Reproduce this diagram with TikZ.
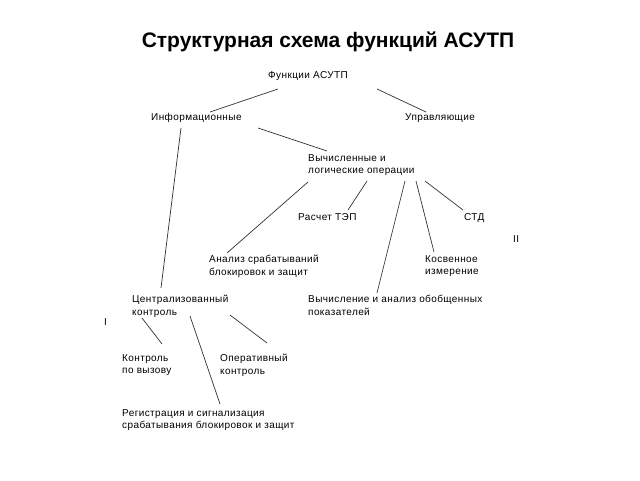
\documentclass[tikz,border=0pt]{standalone}
\usepackage{fontspec}
\setmainfont{Liberation Sans}
\newfontfamily\lblfont[LetterSpace=4]{Liberation Sans}
\begin{document}
\begin{tikzpicture}[x=1pt,y=-1pt,
  lbl/.style={anchor=north west,inner sep=0pt,align=left,font=\lblfont\fontsize{10}{12.8}\selectfont},
  conn/.style={draw=black!80,line width=0.7pt}]
\useasboundingbox (0,0) rectangle (640,480);
\node[anchor=base,inner sep=0pt,font=\fontsize{21}{24}\selectfont\bfseries] (title) at (328,47) {Структурная схема функций АСУТП};
\node[lbl] (f) at (268,71) {Функции АСУТП};
\node[lbl] (inf) at (151,113) {Информационные};
\node[lbl] (upr) at (405,113) {Управляющие};
\node[lbl] (vych) at (308,154) {Вычисленные и\\логические операции};
\node[lbl] (tep) at (298,213) {Расчет ТЭП};
\node[lbl] (std) at (464,213) {СТД};
\node[lbl] (ii) at (513,235) {II};
\node[lbl] (anal) at (209,255) {Анализ срабатываний\\блокировок и защит};
\node[lbl] (kosv) at (425,255) {Косвенное\\измерение};
\node[lbl] (centr) at (132,295) {Централизованный\\контроль};
\node[lbl] (obob) at (308,295) {Вычисление и анализ обобщенных\\показателей};
\node[lbl] (i) at (104,318) {I};
\node[lbl] (vyz) at (122,354) {Контроль\\по вызову};
\node[lbl] (oper) at (220,354) {Оперативный\\контроль};
\node[lbl] (reg) at (122,409) {Регистрация и сигнализация\\срабатывания блокировок и защит};
\coordinate (a1) at (278,89); \coordinate (a2) at (210,112);
\coordinate (b1) at (377,89); \coordinate (b2) at (426,112);
\coordinate (c1) at (258,128); \coordinate (c2) at (327,151);
\coordinate (d1) at (181,128); \coordinate (d2) at (161,288);
\coordinate (e1) at (308,182); \coordinate (e2) at (227,253);
\coordinate (g1) at (367,181); \coordinate (g2) at (348,210);
\coordinate (h1) at (405,181); \coordinate (h2) at (377,293);
\coordinate (k1) at (416,181); \coordinate (k2) at (434,252);
\coordinate (m1) at (425,181); \coordinate (m2) at (463,210);
\coordinate (n1) at (142,318); \coordinate (n2) at (162,344);
\coordinate (p1) at (190,316); \coordinate (p2) at (220,404);
\coordinate (q1) at (230,315); \coordinate (q2) at (267,343);
\draw[conn] (a1) -- (a2);
\draw[conn] (b1) -- (b2);
\draw[conn] (c1) -- (c2);
\draw[conn] (d1) -- (d2);
\draw[conn] (e1) -- (e2);
\draw[conn] (g1) -- (g2);
\draw[conn] (h1) -- (h2);
\draw[conn] (k1) -- (k2);
\draw[conn] (m1) -- (m2);
\draw[conn] (n1) -- (n2);
\draw[conn] (p1) -- (p2);
\draw[conn] (q1) -- (q2);
\end{tikzpicture}
\end{document}
